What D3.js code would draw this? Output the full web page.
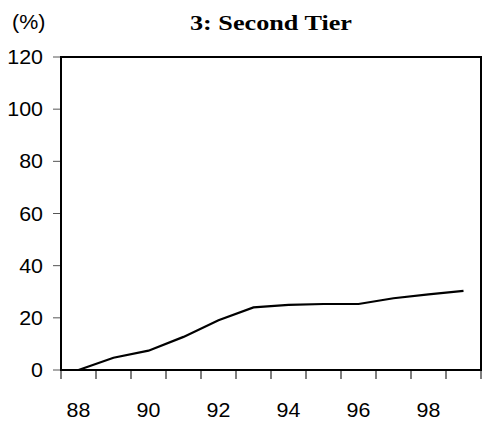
<!DOCTYPE html>
<html>
<head>
<meta charset="utf-8">
<script src="https://cdn.jsdelivr.net/npm/d3@7"></script>
<style>
html,body{margin:0;padding:0;background:#fff;}
svg{display:block;}
</style>
</head>
<body>
<script>
const years = ["88","89","90","91","92","93","94","95","96","97","98","99"];
const values = [0, 4.7, 7.4, 12.7, 19.1, 24.0, 25.0, 25.3, 25.3, 27.5, 29.0, 30.3];
const yTicks = [0, 20, 40, 60, 80, 100, 120];
const xLabels = ["88","90","92","94","96","98"];
const title = "3: Second Tier";
const unit = "(%)";

const W = 482, H = 425;
const svg = d3.select("body").append("svg").attr("width", W).attr("height", H);

const x = d3.scaleBand().domain(years).range([61, 481]).padding(0);
const y = d3.scaleLinear().domain([0, 120]).range([370, 57]);

const sx = 1.07;
function stretch(sel){
  sel.each(function(){
    const w = this.getComputedTextLength();
    d3.select(this).attr("textLength", w * sx).attr("lengthAdjust", "spacingAndGlyphs");
  });
}

// y ticks
svg.append("g").selectAll("line").data(yTicks).join("line")
  .attr("x1", 53).attr("x2", 61)
  .attr("y1", d => y(d)).attr("y2", d => y(d))
  .attr("stroke", "#555").attr("stroke-width", 1);

svg.append("g").selectAll("text").data(yTicks).join("text")
  .attr("x", 43).attr("y", d => y(d) + 7)
  .attr("text-anchor", "end")
  .attr("font-family", "Liberation Sans, Arial, sans-serif")
  .attr("font-size", 20)
  .attr("fill", "#000")
  .text(d => d)
  .call(stretch);

// x ticks at band edges
const edges = years.map(d => x(d)).concat([x.range()[1]]);
svg.append("g").selectAll("line").data(edges).join("line")
  .attr("x1", d => d).attr("x2", d => d)
  .attr("y1", 370).attr("y2", 379)
  .attr("stroke", "#555").attr("stroke-width", 1.5);

svg.append("g").selectAll("text").data(xLabels).join("text")
  .attr("x", d => x(d) + x.bandwidth() / 2)
  .attr("y", 417)
  .attr("text-anchor", "middle")
  .attr("font-family", "Liberation Sans, Arial, sans-serif")
  .attr("font-size", 20)
  .attr("fill", "#000")
  .text(d => d)
  .call(stretch);

// plot border
svg.append("rect")
  .attr("x", 61).attr("y", 57)
  .attr("width", 481 - 61).attr("height", 370 - 57)
  .attr("fill", "none").attr("stroke", "#000").attr("stroke-width", 2);

// line
const line = d3.line()
  .x((d, i) => x(years[i]) + x.bandwidth() / 2)
  .y(d => y(d));
svg.append("path").datum(values)
  .attr("d", line)
  .attr("fill", "none").attr("stroke", "#000").attr("stroke-width", 2.2);

// title
svg.append("text")
  .attr("x", 271).attr("y", 30)
  .attr("text-anchor", "middle")
  .attr("font-family", "Liberation Serif, Times New Roman, serif")
  .attr("font-weight", "bold")
  .attr("font-size", 22)
  .attr("fill", "#000")
  .attr("textLength", 162).attr("lengthAdjust", "spacingAndGlyphs")
  .text(title);

svg.append("text")
  .attr("x", 12).attr("y", 29)
  .attr("font-family", "Liberation Sans, Arial, sans-serif")
  .attr("font-size", 20)
  .attr("fill", "#000")
  .text(unit)
  .call(stretch);
</script>
</body>
</html>
